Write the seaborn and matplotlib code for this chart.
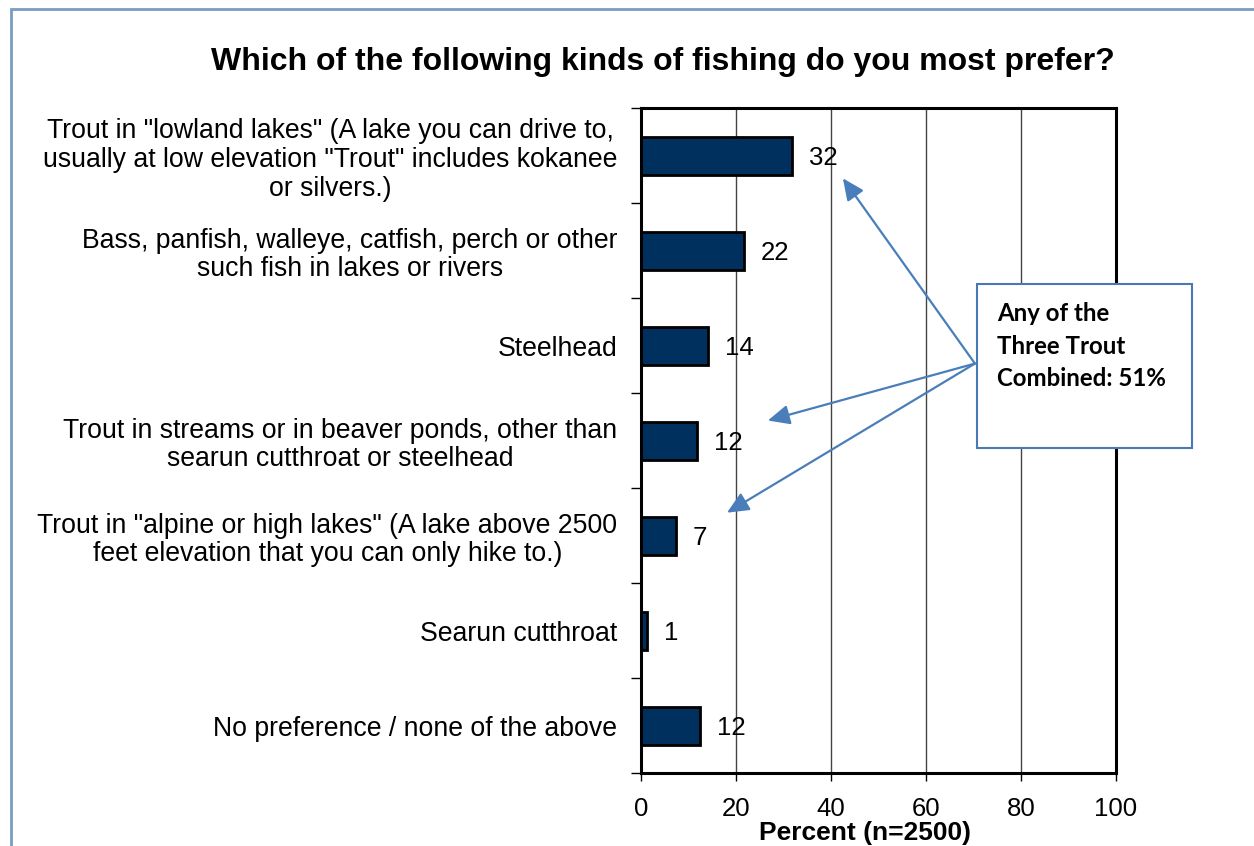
import matplotlib
matplotlib.use("Agg")
import matplotlib.pyplot as plt
import seaborn as sns
import pandas as pd
from matplotlib.patches import Rectangle

categories = [
    'Trout in "lowland lakes" (A lake you can drive to,\nusually at low elevation "Trout" includes kokanee\nor silvers.)',
    'Bass, panfish, walleye, catfish, perch or other\nsuch fish in lakes or rivers',
    'Steelhead',
    'Trout in streams or in beaver ponds, other than\nsearun cutthroat or steelhead',
    'Trout in "alpine or high lakes" (A lake above 2500\nfeet elevation that you can only hike to.)',
    'Searun cutthroat',
    'No preference / none of the above',
]
values = [31.8, 21.7, 14.1, 11.8, 7.4, 1.3, 12.4]
value_labels = ["32", "22", "14", "12", "7", "1", "12"]
x_ticks = [0, 20, 40, 60, 80, 100]
title = "Which of the following kinds of fishing do you most prefer?"
x_label = "Percent (n=2500)"
callout = "Any of the\nThree Trout\nCombined: 51%"

sns.set_theme(style="white")
plt.rcParams["font.family"] = ["Liberation Sans", "DejaVu Sans"]
plt.rcParams.update({"text.color": "black", "axes.labelcolor": "black",
                     "xtick.color": "black", "ytick.color": "black"})

df = pd.DataFrame({"category": categories, "value": values})

fig = plt.figure(figsize=(12.54, 8.46), dpi=100)
ax = fig.add_axes([641/1254, 1-773/846, (1116-641)/1254, (773-108)/846])

sns.barplot(data=df, y="category", x="value", orient="h", ax=ax,
            color="#00305E", edgecolor="black", linewidth=2, width=0.4,
            saturation=1)

ax.set_xlim(0, 100)
ax.set_ylim(6.5, -0.5)
ax.set_xticks(x_ticks)
ax.set_xticklabels([str(t) for t in x_ticks], fontsize=18.5)
ax.set_yticks([i - 0.5 for i in range(len(categories) + 1)], minor=False)
ax.set_yticklabels([])
ax.set_yticks(range(len(categories)), minor=True)
ax.set_yticklabels(categories, minor=True, fontsize=19.2, ha="right",
                   multialignment="center", linespacing=1.14)
ax.tick_params(axis="y", which="minor", length=0, pad=17)
ax.tick_params(axis="y", which="major", length=7, width=1, direction="out", left=True)
ax.tick_params(axis="x", which="major", length=6, width=1, direction="out", bottom=True, pad=11)
ax.set_ylabel("")
ax.set_xlabel(x_label, fontsize=19, fontweight="bold")
ax.xaxis.set_label_coords((865 - 641) / 475, -(833 - 773) / 665, transform=ax.transAxes)
ax.xaxis.label.set_va("center")

for xv in x_ticks[1:-1]:
    ax.axvline(xv, color="#444444", linewidth=1, zorder=0)

for s in ax.spines.values():
    s.set_visible(True)
    s.set_color("black")
    s.set_linewidth(2.2)

for i, (v, lab) in enumerate(zip(values, value_labels)):
    ax.annotate(lab, xy=(v, i), xytext=(12, 0), textcoords="offset points",
                va="center_baseline", ha="left", fontsize=18.5, color="black")

fig.text(663/1254, 1-62/846, title, ha="center", va="center",
         fontsize=23, fontweight="bold")

# callout box
box = Rectangle((977/1254, 1-448/846), 215/1254, 164/846,
                transform=fig.transFigure, facecolor="white",
                edgecolor="#4A78B5", linewidth=1.5, zorder=5)
fig.patches.append(box)
fig.text(997/1254, 1-302/846, callout, ha="left", va="top",
         fontsize=17.3, fontweight="bold", family=["Lato", "DejaVu Sans"],
         linespacing=1.5, zorder=6)

# arrows from callout to the three trout bars
start = (70.3, 2.19)
targets = [(42.5, 0.24), (26.7, 2.79), (18.1, 3.76)]
for t in targets:
    ax.annotate("", xy=t, xytext=start,
                arrowprops=dict(arrowstyle="-|>,head_length=1.1,head_width=0.5",
                                color="#4A7EBB", lw=1.6, shrinkA=0, shrinkB=0),
                annotation_clip=False)

# outer border
border = Rectangle((11/1254, -0.05), 1.2, 1.05 - 9/846,
                   transform=fig.transFigure, facecolor="none",
                   edgecolor="#7A9CC0", linewidth=2, zorder=0)
fig.patches.append(border)

fig.savefig("out.png", dpi=100)
